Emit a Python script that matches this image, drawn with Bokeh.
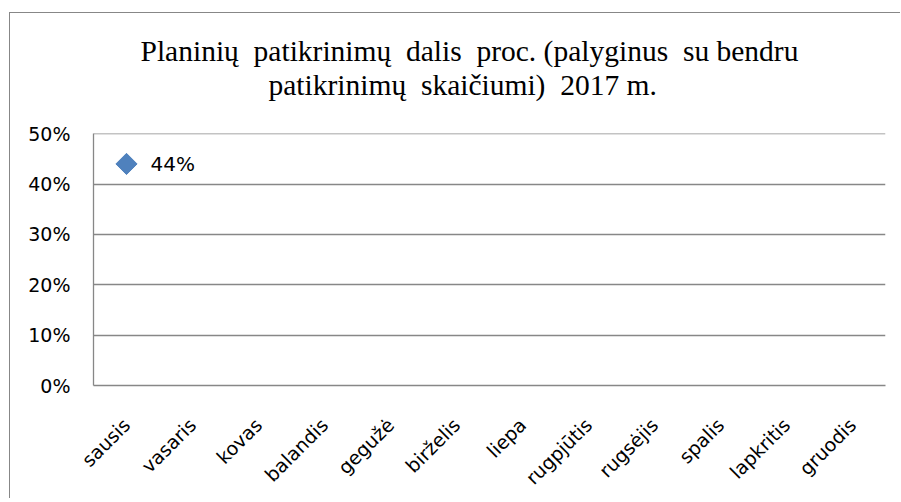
from bokeh.plotting import figure
from bokeh.models import (ColumnDataSource, Range1d, FixedTicker, NumeralTickFormatter,
                          Title, LabelSet)
from bokeh.core.properties import value
from bokeh.embed import file_html
from bokeh.resources import INLINE
import math

months = ["sausis", "vasaris", "kovas", "balandis", "gegužė", "birželis",
          "liepa", "rugpjūtis", "rugsėjis", "spalis", "lapkritis", "gruodis"]
point_months = ["sausis"]
point_values = [0.44]
point_labels = ["44%"]
y_ticks = [0, 0.1, 0.2, 0.3, 0.4, 0.5]
# non-breaking spaces keep the wider word gaps of the original title
title_line1 = "Planinių\u00a0 patikrinimų\u00a0 dalis\u00a0 proc. (palyginus\u00a0 su bendru"
title_line2 = "patikrinimų\u00a0 skaičiumi)\u00a0 2017 m."

GRID = "#878787"
FONT = "DejaVu Sans"
SERIF = "Liberation Serif"

p = figure(width=891, height=486, x_range=months, y_range=Range1d(0, 0.5005),
           output_backend="svg", toolbar_location=None,
           min_border_left=83, min_border_right=16, min_border_top=120,
           min_border_bottom=113)
p.styles = {"margin-left": "9px", "margin-top": "12px",
            "border-style": "solid none none solid",
            "border-width": "1px", "border-color": GRID}
p.outline_line_color = None
p.background_fill_color = "white"
p.border_fill_color = "white"

# default title (outermost) = first line
p.title.text = title_line1
p.title.align = "left"
p.title.offset = 47
p.title.standoff = 0
p.title.text_font = SERIF
p.title.text_font_size = "29.5px"
p.title.text_font_style = "normal"
p.title.text_color = "black"
# white spacer next to the frame, then the second title line above it
p.add_layout(Title(text=".", align="left", standoff=30, text_font_size="1px",
                   text_color="white"), "above")
p.add_layout(Title(text=title_line2, align="left", offset=175, standoff=0,
                   text_font=SERIF, text_font_size="29.5px", text_font_style="normal",
                   text_color="black"), "above")

p.xgrid.grid_line_color = None
p.ygrid.grid_line_color = GRID
p.ygrid.grid_line_width = 1.3

p.yaxis.ticker = FixedTicker(ticks=y_ticks)
p.yaxis.formatter = NumeralTickFormatter(format="0%")
p.yaxis.axis_line_color = GRID
p.yaxis.axis_line_width = 1.3
p.yaxis.major_tick_line_color = None
p.yaxis.minor_tick_line_color = None
p.yaxis.major_tick_out = 0
p.yaxis.major_label_standoff = 23
p.yaxis.major_label_text_font = FONT
p.yaxis.major_label_text_font_size = "19px"
p.yaxis.major_label_text_color = "black"

p.xaxis.axis_line_color = GRID
p.xaxis.axis_line_width = 1.3
p.xaxis.major_tick_line_color = None
p.xaxis.minor_tick_line_color = None
p.xaxis.major_tick_out = 0
p.xaxis.major_label_orientation = math.pi / 4
p.xaxis.major_label_standoff = 36
p.xaxis.major_label_text_font = FONT
p.xaxis.major_label_text_font_size = "19px"
p.xaxis.major_label_text_color = "black"

src = ColumnDataSource(dict(x=point_months, y=point_values, lab=point_labels))
p.scatter("x", "y", source=src, marker="square", angle=math.pi / 4, size=15,
          fill_color="#4F81BD", line_color="#4F81BD")
p.add_layout(LabelSet(x="x", y="y", text="lab", source=src, x_offset=24,
                      text_align="left", text_baseline="middle",
                      text_font=value(FONT), text_font_size="20px",
                      text_color="black"))

open("out.html", "w").write(file_html(p, INLINE))
